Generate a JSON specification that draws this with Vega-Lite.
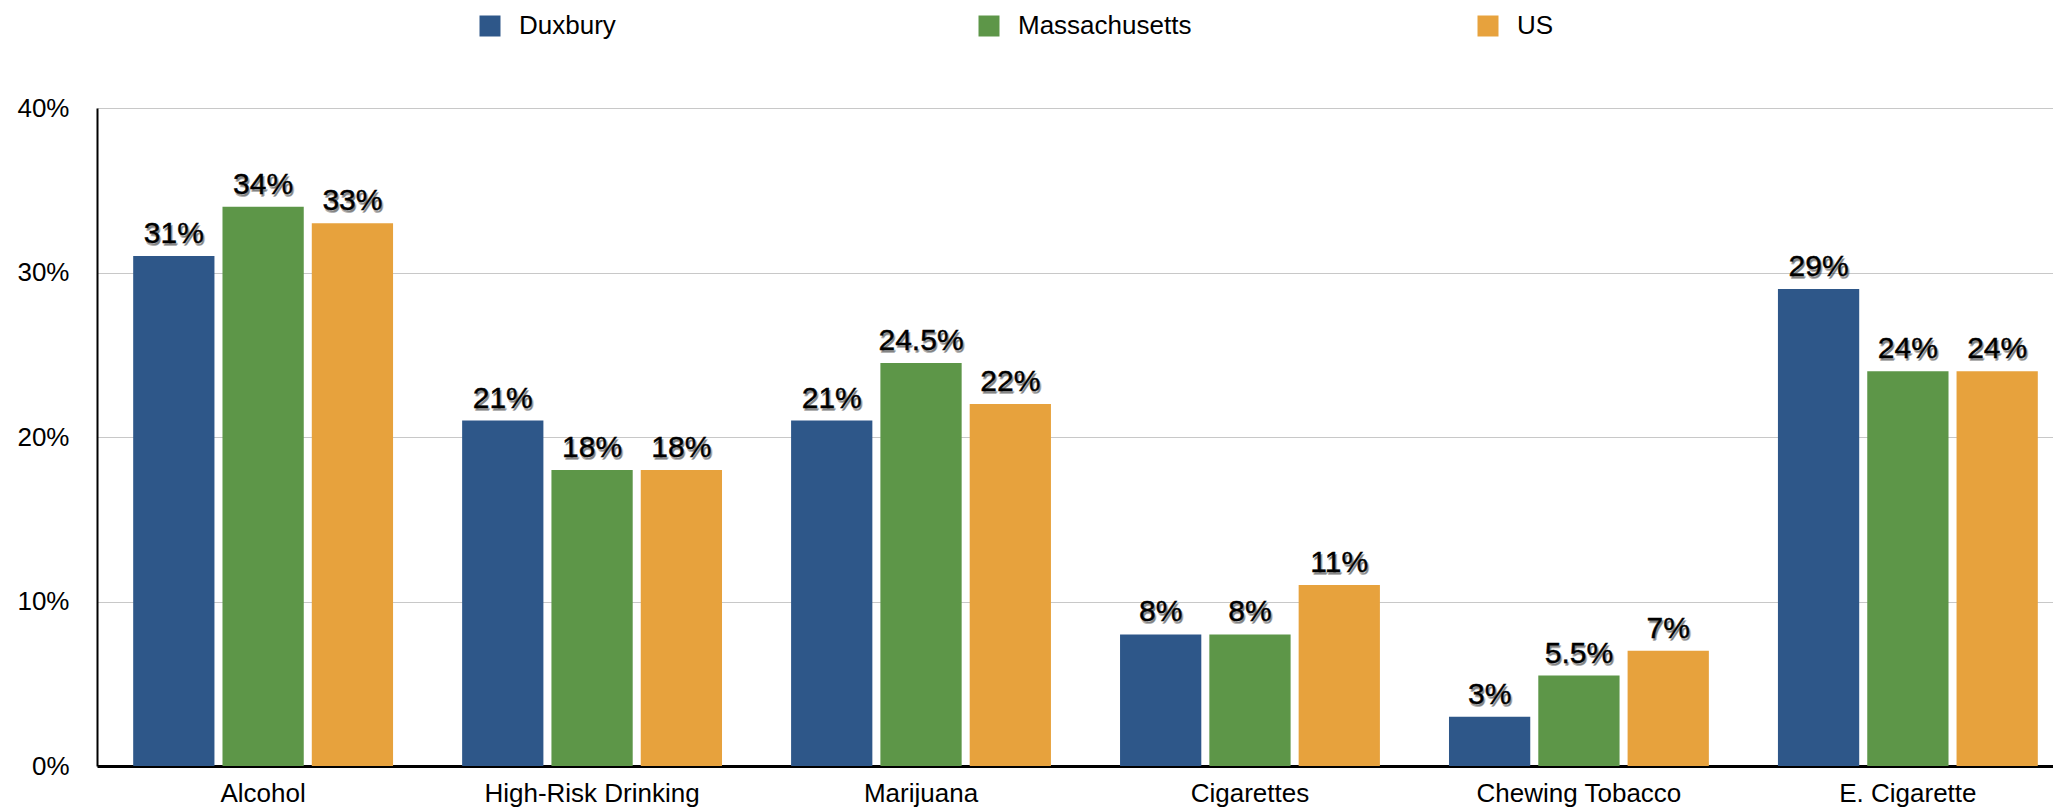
{
  "$schema": "https://vega.github.io/schema/vega-lite/v6.json",
  "autosize": "none",
  "padding": {"left": 97, "top": 108, "right": 0, "bottom": 45},
  "width": 1956,
  "height": 658,
  "background": "white",
  "config": {
    "view": {"stroke": null},
    "font": "Liberation Sans",
    "axis": {"labelFont": "Liberation Sans", "labelColor": "#000", "labelFontSize": 26, "ticks": false, "title": null},
    "legend": {"labelFont": "Liberation Sans"}
  },
  "data": {
    "values": [
      {"category": "Alcohol", "series": "Duxbury", "value": 0.31},
      {"category": "Alcohol", "series": "Massachusetts", "value": 0.34},
      {"category": "Alcohol", "series": "US", "value": 0.33},
      {"category": "High-Risk Drinking", "series": "Duxbury", "value": 0.21},
      {"category": "High-Risk Drinking", "series": "Massachusetts", "value": 0.18},
      {"category": "High-Risk Drinking", "series": "US", "value": 0.18},
      {"category": "Marijuana", "series": "Duxbury", "value": 0.21},
      {"category": "Marijuana", "series": "Massachusetts", "value": 0.245},
      {"category": "Marijuana", "series": "US", "value": 0.22},
      {"category": "Cigarettes", "series": "Duxbury", "value": 0.08},
      {"category": "Cigarettes", "series": "Massachusetts", "value": 0.08},
      {"category": "Cigarettes", "series": "US", "value": 0.11},
      {"category": "Chewing Tobacco", "series": "Duxbury", "value": 0.03},
      {"category": "Chewing Tobacco", "series": "Massachusetts", "value": 0.055},
      {"category": "Chewing Tobacco", "series": "US", "value": 0.07},
      {"category": "E. Cigarette", "series": "Duxbury", "value": 0.29},
      {"category": "E. Cigarette", "series": "Massachusetts", "value": 0.24},
      {"category": "E. Cigarette", "series": "US", "value": 0.24}
    ]
  },
  "encoding": {
    "x": {
      "field": "category", "type": "nominal", "sort": null,
      "scale": {"paddingInner": 0.21, "paddingOuter": 0.11, "range": [0, 1977]},
      "axis": {"labelAngle": 0, "labelPadding": 14, "domainColor": "#000", "domainWidth": 3, "grid": false, "labelLimit": 400}
    },
    "xOffset": {
      "field": "series", "type": "nominal", "sort": ["Duxbury", "Massachusetts", "US"],
      "scale": {"paddingInner": 0.09, "paddingOuter": 0}
    },
    "y": {
      "field": "value", "type": "quantitative",
      "scale": {"domain": [0, 0.4], "nice": false},
      "axis": {"values": [0, 0.1, 0.2, 0.3, 0.4], "format": ".0%", "labelPadding": 28, "domainColor": "#000", "domainWidth": 2, "gridColor": "#c8c8c8", "gridWidth": 1}
    }
  },
  "layer": [
    {
      "mark": {"type": "bar"},
      "encoding": {
        "color": {
          "field": "series", "type": "nominal",
          "scale": {"domain": ["Duxbury", "Massachusetts", "US"], "range": ["#2e5789", "#5d9648", "#e7a23d"]},
          "legend": {
            "title": null, "orient": "none", "legendX": 380, "legendY": -95,
            "direction": "horizontal", "columns": 3, "gridAlign": "all", "columnPadding": 283,
            "symbolType": "square", "symbolSize": 441, "symbolStrokeWidth": 0, "symbolOpacity": 1,
            "labelFontSize": 26, "labelColor": "#000", "labelOffset": 16, "padding": 0, "labelLimit": 400
          }
        }
      }
    },
    {
      "mark": {"type": "text", "baseline": "alphabetic", "dy": -11, "dx": 2, "fontSize": 30, "fill": "#000", "opacity": 0.25, "font": "Liberation Sans"},
      "encoding": {"text": {"field": "value", "type": "quantitative", "format": ".1~%"}}
    },
    {
      "mark": {"type": "text", "baseline": "alphabetic", "dy": -10, "dx": 1, "fontSize": 30, "fill": "#000", "opacity": 0.3, "font": "Liberation Sans"},
      "encoding": {"text": {"field": "value", "type": "quantitative", "format": ".1~%"}}
    },
    {
      "mark": {"type": "text", "baseline": "alphabetic", "dy": -13, "fontSize": 30, "fill": "#000", "stroke": "#000", "strokeWidth": 0.4, "font": "Liberation Sans"},
      "encoding": {"text": {"field": "value", "type": "quantitative", "format": ".1~%"}}
    }
  ]
}
